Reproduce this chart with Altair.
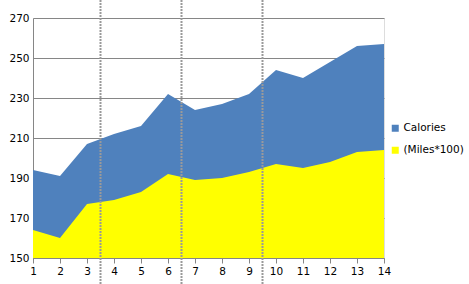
import altair as alt
import pandas as pd

days = list(range(1, 15))
calories = [194, 191, 207, 212, 216, 232, 224, 227, 232, 244, 240, 248, 256, 257]
miles100 = [164, 160, 177, 179, 183, 192, 189, 190, 193, 197, 195, 198, 203, 204]
series_names = ["Calories", "(Miles*100)"]
series_colors = ["#4F81BD", "#FFFF00"]
separators = [3.5, 6.5, 9.5]
y_ticks = [150, 170, 190, 210, 230, 250, 270]

rows = []
for d, c, m in zip(days, calories, miles100):
    rows.append({"day": d, "value": c, "series": series_names[0]})
    rows.append({"day": d, "value": m, "series": series_names[1]})
df = pd.DataFrame(rows)
sep_df = pd.DataFrame({"day": separators})

W, H = 351, 240
FONT = "DejaVu Sans"

xaxis = alt.Axis(values=days, title=None, grid=False, tickSize=5,
                 tickColor="#868686", domainColor="#868686",
                 labelPadding=3, labelFont=FONT, labelFontSize=10.5,
                 labelColor="#000000", format="d", labelFlush=False,
                 labelOverlap=False, labelBound=False)
xenc = alt.X("day:Q", scale=alt.Scale(domain=[1, 14], nice=False, zero=False), axis=xaxis)
yenc = alt.Y("value:Q", scale=alt.Scale(domain=[150, 270], nice=False, zero=False),
             axis=alt.Axis(values=y_ticks, title=None, grid=True, gridColor="#868686",
                           ticks=False, domainColor="#868686", labelPadding=4,
                           labelFont=FONT, labelFontSize=10.5, labelColor="#000000",
                           labelOverlap=False))
color = alt.Color("series:N", scale=alt.Scale(domain=series_names, range=series_colors),
                  legend=alt.Legend(title=None, orient="none", legendX=357, legendY=105,
                                    symbolType="square", symbolSize=49, symbolStrokeWidth=0,
                                    labelFont=FONT, labelFontSize=10.5, labelColor="#000000",
                                    labelOffset=3, rowPadding=11, symbolOpacity=1))

area_cal = alt.Chart(df).transform_filter(alt.datum.series == "Calories").mark_area(opacity=1).encode(
    x=xenc, y=yenc, y2=alt.datum(150), color=color)
area_mi = alt.Chart(df).transform_filter(alt.datum.series == "(Miles*100)").mark_area(opacity=1).encode(
    x=xenc, y=yenc, y2=alt.datum(150), color=color)
rules = alt.Chart(sep_df).mark_rule(color="#9a9a9a", strokeWidth=2, strokeDash=[2, 1]).encode(
    x=xenc, y=alt.value(-18), y2=alt.value(266))

chart = alt.layer(area_cal, area_mi, rules).properties(
    width=W, height=H,
    autosize=alt.AutoSizeParams(type="none"),
    padding={"left": 33, "top": 18, "right": 85, "bottom": 26},
).configure_view(stroke=None).configure_axis(labelOverlap=False).configure(background="#ffffff")

chart.save("out.html", embed_options={"renderer": "svg", "actions": False})
